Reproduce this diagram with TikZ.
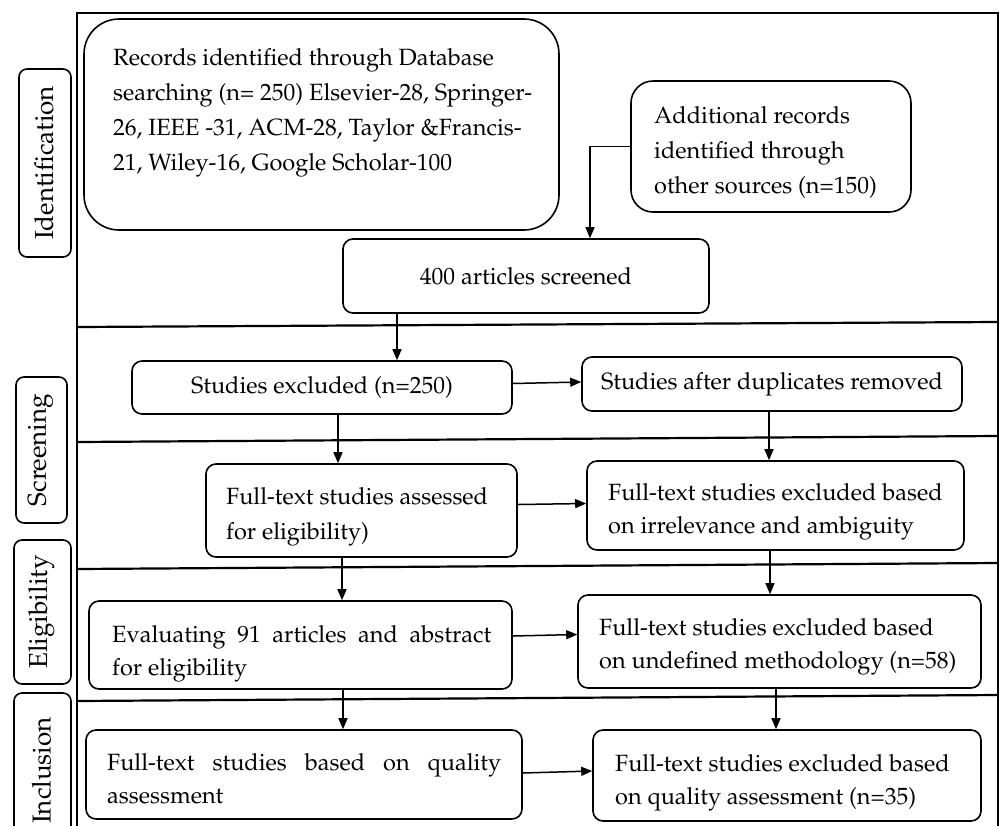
\documentclass[tikz,border=0pt]{standalone}
\usepackage[T1]{fontenc}
\usepackage{mathpazo}
\usetikzlibrary{arrows.meta}
\begin{document}
\begin{tikzpicture}[x=1pt,y=-1pt,
  box/.style={draw, line width=1.6pt, rounded corners=10pt, inner sep=0pt},
  sidebox/.style={draw, line width=1.6pt, rounded corners=8pt, inner sep=0pt},
  sidetxt/.style={inner sep=0pt, rotate=90, font=\fontsize{26}{30}\selectfont},
  txt/.style={inner sep=0pt, anchor=north west, align=left, font=\fontsize{23.5}{35}\selectfont},
  txtb/.style={inner sep=0pt, anchor=north west, align=left, font=\fontsize{23.5}{33}\selectfont},
  ctxt/.style={font=\fontsize{23.5}{27}\selectfont},
  arr/.style={line width=1.5pt, -{Triangle[length=11pt,width=9pt]}},
  divider/.style={line width=2.2pt},
  frame/.style={line width=1.5pt}]
\useasboundingbox (0,0) rectangle (1000,825);
\clip (0,0) rectangle (1000,825);
\fill[white] (0,0) rectangle (1000,825);

% outer frame and phase dividers
\draw[frame] (77,13) rectangle (998,850);
\draw[divider] (77,327) -- (998,322);
\draw[divider] (77,442) -- (998,436);
\draw[divider] (77,569) -- (998,563);
\draw[divider] (77,701) -- (998,695);

% phase labels
\node[sidebox, minimum width=52pt, minimum height=188pt] (ident) at (45,163) {};
\node[sidetxt] at ([xshift=-1pt]ident.center) {Identification};
\node[sidebox, minimum width=51pt, minimum height=146pt] (scrn) at (41.5,450) {};
\node[sidetxt] at ([xshift=-1pt]scrn.center) {Screening};
\node[sidebox, minimum width=57pt, minimum height=144pt] (elig) at (42.5,612) {};
\node[sidetxt] at ([xshift=-1pt]elig.center) {Eligibility};
\node[sidebox, minimum width=57pt, minimum height=147pt] (incl) at (42.5,766.5) {};
\node[sidetxt] at ([xshift=-1pt,yshift=-4pt]incl.center) {Inclusion};

% boxes
\node[box, rounded corners=35pt, minimum width=475pt, minimum height=211pt] (rec) at (321.5,124.5) {};
\node[txt] (trec) at (113,48) {Records identified through Database\\searching (n= 250) Elsevier-28, Springer-\\26, IEEE -31, ACM-28, Taylor \&Francis-\\21, Wiley-16, Google Scholar-100};

\node[box, rounded corners=22pt, minimum width=280pt, minimum height=131pt] (add) at (771,146.5) {};
\node[txt] (tadd) at (654,106) {Additional records\\identified through\\other sources (n=150)};

\node[box, ctxt, minimum width=366pt, minimum height=74pt] (scr) at (526,276) {400 articles screened};
\node[box, ctxt, minimum width=380pt, minimum height=53pt] (excl) at (322,387.5) {Studies excluded (n=250)};
\node[box, ctxt, minimum width=380pt, minimum height=54pt] (dup) at (772,384) {Studies after duplicates removed};

\node[box, minimum width=311pt, minimum height=93pt] (assess) at (361.5,510.5) {};
\node[txt] (tassess) at (226,487) {Full-text studies assessed\\for eligibility)};
\node[box, minimum width=377pt, minimum height=89pt] (irr) at (775.5,505.5) {};
\node[txtb] (tirr) at (608,483) {Full-text studies excluded based\\on irrelevance and ambiguity};

\node[box, minimum width=423pt, minimum height=88pt] (eval) at (300.5,645) {};
\node[txtb, text width=379pt, align=justify] (teval) at (112,625) {Evaluating 91 articles and abstract\linebreak for eligibility};
\node[box, minimum width=403pt, minimum height=93pt] (meth) at (779.5,641.5) {};
\node[txtb] (tmeth) at (599,618) {Full-text studies excluded based\\on undefined methodology (n=58)};

\node[box, minimum width=436pt, minimum height=89pt] (qual) at (304,774.5) {};
\node[txtb, text width=394pt, align=justify] (tqual) at (107,753) {Full-text studies based on quality\linebreak assessment};
\node[box, minimum width=388pt, minimum height=91pt] (qexcl) at (787,775.5) {};
\node[txtb] (tqexcl) at (615,754) {Full-text studies excluded based\\on quality assessment (n=35)};

% connectors
\draw[arr] (add.west) -| ([xshift=64pt]scr.north);
\draw[arr] ([xshift=-129pt]scr.south) -- ([xshift=-129pt]scr.south |- excl.north);
\draw[arr] ([yshift=4pt]excl.east) -- ([yshift=2pt]dup.west);
\draw[arr] ([xshift=16pt]excl.south) -- ([xshift=16pt]excl.south |- assess.north);
\draw[arr] ([xshift=-3pt]dup.south) -- ([xshift=-3pt]dup.south |- irr.north);
\draw[arr] ([yshift=6pt]assess.east) -- ([yshift=2pt]irr.west);
\draw[arr] ([xshift=-19.5pt]assess.south) -- ([xshift=-19.5pt]assess.south |- eval.north);
\draw[arr] ([xshift=-5.5pt]irr.south) -- ([xshift=-5.5pt]irr.south |- meth.north);
\draw[arr] ([yshift=9pt]eval.east) -- ([yshift=7pt]meth.west);
\draw[arr] ([xshift=42.5pt]eval.south) -- ([xshift=42.5pt]eval.south |- qual.north);
\draw[arr] ([xshift=-3.5pt]meth.south) -- ([xshift=-3.5pt]meth.south |- qexcl.north);
\draw[arr] ([yshift=1.5pt]qual.east) -- ([yshift=4.5pt]qexcl.west);
\end{tikzpicture}
\end{document}
